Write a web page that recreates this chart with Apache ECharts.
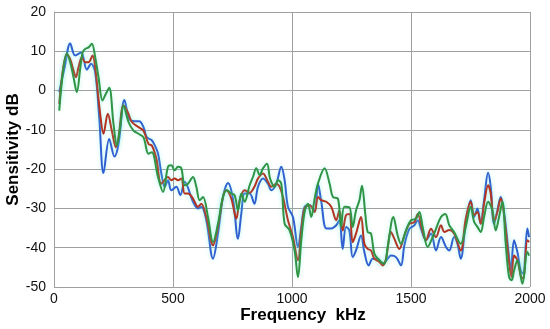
<!DOCTYPE html>
<html><head><meta charset="utf-8">
<script src="https://cdn.jsdelivr.net/npm/echarts@6/dist/echarts.min.js"></script>
<style>html,body{margin:0;padding:0;background:#fff}#c{width:550px;height:329px}</style>
</head><body><div id="c"></div>
<script>
var xTicks = [0, 500, 1000, 1500, 2000];
var yTicks = [-50, -40, -30, -20, -10, 0, 10, 20];

var blueFreq = [22,45,68,89,114,138,156,173,190,208,232,254,271,296,316,338,358,376,390,410,423,437,451,465,479,493,514,531,549,584,605,619,640,668,689,710,731,752,773,787,801,822,842,857,878,899,913,934,955,969,983,1004,1025,1039,1053,1074,1095,1109,1123,1144,1165,1186,1199,1213,1227,1241,1255,1269,1290,1304,1322,1339,1360,1381,1402,1416,1437,1458,1472,1493,1514,1528,1542,1563,1584,1605,1626,1647,1661,1681,1695,1709,1730,1751,1765,1779,1793,1807,1824,1835,1849,1863,1877,1891,1912,1919,1933,1947,1961,1971,1989,1996];
var blueDb = [-0.4,6,12,8.9,9.7,5.3,6.8,4.7,-6.8,-21,-12.3,-16.8,-13.6,-2.4,-7.2,-7.8,-7.8,-9.3,-11.9,-12.6,-13.9,-16,-21.1,-24.5,-22.8,-25.4,-24.5,-26.6,-23.2,-28.3,-30,-29.6,-33,-42.8,-36.4,-27.1,-23.5,-27.5,-37.7,-31.3,-26.2,-26.2,-28.8,-24.5,-22.4,-23.7,-25.4,-23.7,-19.4,-22.8,-29.6,-32.2,-39.8,-34.7,-29.6,-29.2,-30.5,-23.7,-28.3,-35.1,-35.1,-34.3,-33,-40.3,-34.7,-35.6,-42.4,-40.7,-36.9,-41.1,-44.5,-42.8,-42.8,-44.1,-42.8,-42,-42.4,-44.5,-39.4,-35.2,-34.3,-33,-35.2,-38.1,-36.4,-40.7,-37.3,-39.8,-40.7,-37.3,-39,-42.8,-33.9,-27.9,-32.2,-30,-33.9,-27.9,-20.9,-24.5,-33.9,-30.5,-27.1,-30.9,-42.4,-45.8,-38.1,-41.1,-45.8,-46.6,-35.1,-37.3];

var redFreq = [22,54,68,82,92,103,117,131,145,162,173,194,208,226,243,260,271,292,310,327,355,376,397,411,430,451,479,493,507,521,535,549,563,584,605,619,640,668,689,710,724,745,766,780,801,822,842,857,878,899,913,934,948,962,983,1004,1025,1039,1053,1074,1095,1109,1123,1144,1165,1186,1199,1213,1227,1241,1255,1269,1290,1304,1318,1332,1346,1367,1381,1395,1416,1430,1451,1472,1493,1514,1528,1549,1563,1584,1605,1626,1640,1661,1681,1709,1730,1751,1765,1779,1793,1807,1824,1835,1849,1863,1877,1891,1912,1922,1933,1947,1961,1971,1989,1996];
var redDb = [-3.4,9.3,8,5.1,3.4,5.9,8.5,7.2,7.2,8.9,5.9,-5.9,-11,-5.9,-10.2,-14.4,-11.9,-3.8,-5.5,-8,-9.3,-10.2,-13.6,-14,-17.3,-23.7,-22,-22.8,-22.4,-22.8,-22.4,-26.2,-26.2,-27.5,-29.6,-28.8,-32.2,-39.4,-34.7,-27.1,-25.4,-27.5,-32.6,-27.9,-25.4,-26,-24.5,-22.4,-21.1,-23.2,-24.5,-23.7,-24.5,-27.1,-33,-37.3,-43.2,-35.6,-30,-29.2,-30.9,-27.1,-27.9,-28.3,-29.6,-33,-30.5,-35.6,-31.7,-31.4,-38.6,-36.4,-32.2,-39,-40.3,-40.7,-42.8,-43.6,-44.5,-42.8,-36,-37.7,-40.3,-36.9,-33.9,-33.5,-31.4,-36,-38.1,-35.2,-37.3,-34.3,-36,-35.5,-36.4,-40.7,-32.6,-28.3,-31.7,-30.9,-33.9,-28.8,-24.1,-26.2,-33.4,-30.9,-27.5,-31.7,-43.7,-47.5,-42,-43.2,-47.1,-47.9,-38.1,-38.6];

var greenFreq = [22,54,68,82,96,110,120,131,145,159,173,187,204,218,232,250,264,278,292,313,334,355,376,397,411,437,458,479,493,507,521,535,549,563,584,598,612,626,647,668,689,710,727,745,759,773,787,801,822,836,850,864,878,895,908,927,941,955,969,990,1011,1025,1039,1053,1067,1081,1095,1109,1137,1158,1172,1193,1206,1220,1241,1255,1269,1283,1294,1308,1318,1332,1346,1367,1388,1402,1426,1444,1458,1479,1500,1521,1535,1549,1570,1591,1605,1626,1644,1661,1681,1709,1730,1751,1765,1779,1793,1807,1824,1842,1856,1870,1884,1898,1912,1923,1933,1947,1968,1989,1996];
var greenDb = [-5.1,9.5,7.2,3.4,-0.4,5.5,9.7,10.6,11,11.9,8.5,3.4,-2.5,-0.8,0.7,-8.5,-14,-9.3,-3.8,-8,-10.2,-11,-11.9,-16.1,-15.7,-22,-25.8,-19.4,-19,-20.3,-19.4,-19.8,-24.1,-23.7,-22,-24.5,-27.9,-27.1,-32.2,-38.6,-33.9,-27.1,-25.4,-26.2,-26.6,-30.5,-26.2,-28.3,-24.1,-22,-19.8,-21.5,-19.8,-18.6,-22.4,-24.5,-22.8,-23.7,-33.9,-35.6,-40.7,-47.5,-38.1,-30.9,-28.8,-32.2,-27.5,-23.7,-19.8,-23.7,-27.1,-27.5,-34.7,-29.6,-29.7,-34.7,-30.5,-28,-24.2,-31.4,-36,-36.4,-41.5,-43.2,-44.1,-39.8,-32.2,-36.9,-39,-35.6,-33,-32.6,-30.9,-34.7,-39.8,-37.3,-35.2,-32.2,-31.4,-34.3,-36,-39,-34.7,-29.6,-33.4,-34.7,-36,-32.2,-28.3,-30.5,-35.6,-32.2,-28.3,-39,-47.5,-48.3,-45.8,-43.2,-49.2,-41.1,-42];

function pairs(f, v) { return f.map(function (x, i) { return [x, v[i]]; }); }

var chart = echarts.init(document.getElementById('c'), null, {renderer: 'canvas'});
var font = 'Liberation Sans, Arial, sans-serif';
function line(name, f, v, color) {
  return {
    name: name, type: 'line', data: pairs(f, v), showSymbol: false, smooth: 0.35,
    lineStyle: {color: color, width: 2, shadowColor: 'rgba(110,240,220,0.45)', shadowBlur: 4},
    itemStyle: {color: color}, animation: false, z: 3
  };
}
chart.setOption({
  animation: false,
  grid: {left: 54, right: 20, top: 12, bottom: 42, containLabel: false, outerBoundsMode: 'none'},
  xAxis: {
    type: 'value', min: xTicks[0], max: xTicks[xTicks.length - 1], interval: 500,
    name: 'Frequency  kHz', nameLocation: 'middle', nameGap: 20, nameMoveOverlap: false,
    nameTextStyle: {fontFamily: font, fontSize: 17, fontWeight: 'bold', color: '#000', padding: [0, 0, 0, 22]},
    axisLine: {lineStyle: {color: '#a0a0a0', width: 1}}, axisTick: {show: false},
    axisLabel: {fontFamily: font, fontSize: 14, color: '#111', margin: 5, formatter: function (v) { return String(v); }},
    splitLine: {show: true, lineStyle: {color: '#a0a0a0', width: 1}}
  },
  yAxis: {
    type: 'value', min: yTicks[0], max: yTicks[yTicks.length - 1], interval: 10,
    name: 'Sensitivity dB', nameLocation: 'middle', nameGap: 32, nameMoveOverlap: false,
    nameTextStyle: {fontFamily: font, fontSize: 17, fontWeight: 'bold', color: '#000'},
    axisLine: {show: true, lineStyle: {color: '#a0a0a0', width: 1}}, axisTick: {show: false},
    axisLabel: {fontFamily: font, fontSize: 14, color: '#111', margin: 8, formatter: function (v) { return String(v); }},
    splitLine: {show: true, lineStyle: {color: '#a0a0a0', width: 1}}
  },
  series: [
    line('Blue', blueFreq, blueDb, '#2f5fd0'),
    line('Red', redFreq, redDb, '#b5301e'),
    line('Green', greenFreq, greenDb, '#2f9444')
  ]
});
</script></body></html>
